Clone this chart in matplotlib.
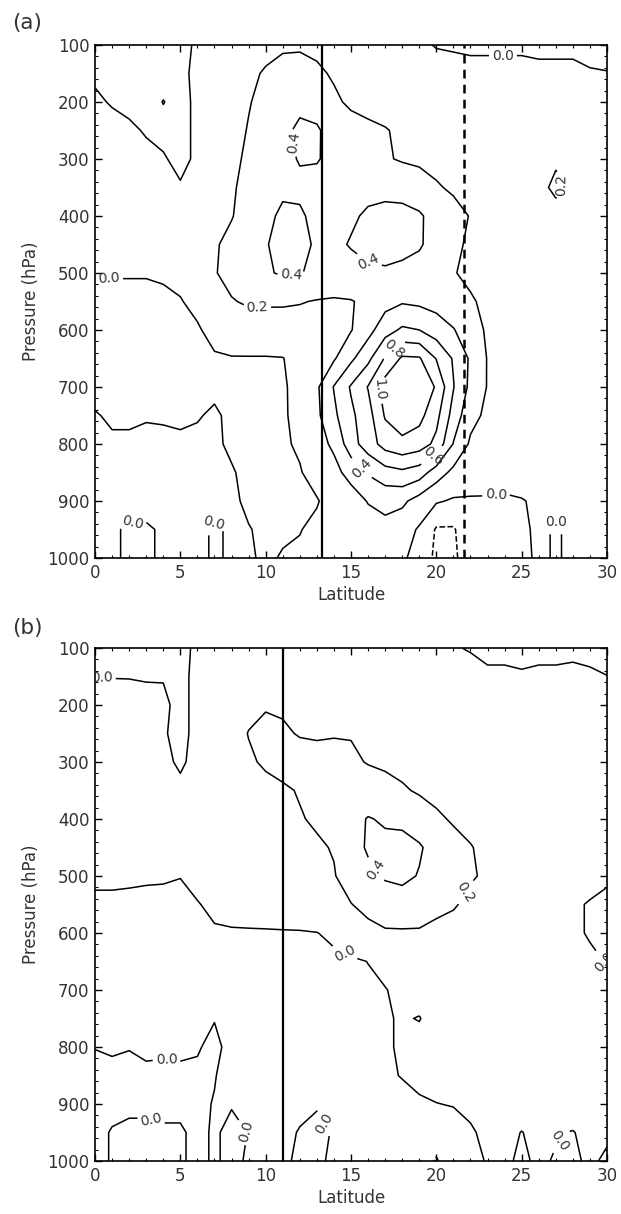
import numpy as np
import matplotlib
matplotlib.use('Agg')
import matplotlib.pyplot as plt
from matplotlib.ticker import MultipleLocator

# grid of the meridional sections
LAT = [0, 1, 2, 3, 4, 5, 6, 7, 8, 9, 10, 11, 12, 13, 14, 15,
       16, 17, 18, 19, 20, 21, 22, 23, 24, 25, 26, 27, 28, 29, 30]
PRES = [100, 150, 200, 250, 300, 350, 400, 450, 500, 550,
        600, 650, 700, 750, 800, 850, 900, 950, 1000]

# panel (a), one row per pressure level, one value per degree of latitude
FIELD_A = [
    [-0.05, -0.06, -0.06, -0.06, -0.05, -0.04, 0.02, 0.05, 0.08, 0.10, 0.14, 0.17, 0.18, 0.16, 0.13, 0.11, 0.09, 0.07, 0.05, 0.03, -0.01, -0.02, -0.03, -0.03, -0.03, -0.03, -0.04, -0.04, -0.04, -0.08, -0.10],
    [-0.02, -0.03, -0.04, -0.04, -0.04, -0.03, 0.03, 0.07, 0.11, 0.16, 0.22, 0.27, 0.26, 0.23, 0.18, 0.15, 0.13, 0.12, 0.10, 0.09, 0.07, 0.06, 0.05, 0.05, 0.05, 0.05, 0.04, 0.04, 0.04, 0.02, 0.01],
    [0.02, -0.01, -0.03, -0.04, 0.003, -0.03, 0.02, 0.08, 0.13, 0.19, 0.25, 0.30, 0.35, 0.33, 0.23, 0.17, 0.14, 0.13, 0.12, 0.11, 0.10, 0.09, 0.08, 0.07, 0.07, 0.07, 0.07, 0.08, 0.07, 0.06, 0.05],
    [0.05, 0.04, 0.02, -0.01, -0.03, -0.03, 0.02, 0.08, 0.14, 0.21, 0.28, 0.35, 0.44, 0.42, 0.33, 0.27, 0.24, 0.21, 0.17, 0.14, 0.12, 0.10, 0.09, 0.08, 0.08, 0.08, 0.09, 0.10, 0.09, 0.08, 0.07],
    [0.06, 0.06, 0.05, 0.03, 0.01, -0.03, 0.02, 0.08, 0.16, 0.23, 0.30, 0.36, 0.41, 0.41, 0.36, 0.30, 0.26, 0.22, 0.18, 0.16, 0.14, 0.12, 0.11, 0.10, 0.10, 0.11, 0.13, 0.18, 0.12, 0.10, 0.08],
    [0.07, 0.07, 0.07, 0.06, 0.04, 0.01, 0.04, 0.10, 0.18, 0.25, 0.33, 0.37, 0.37, 0.35, 0.33, 0.34, 0.36, 0.36, 0.35, 0.30, 0.22, 0.17, 0.14, 0.12, 0.12, 0.13, 0.16, 0.23, 0.15, 0.11, 0.10],
    [0.08, 0.08, 0.08, 0.08, 0.07, 0.06, 0.08, 0.13, 0.19, 0.28, 0.36, 0.43, 0.42, 0.36, 0.34, 0.38, 0.42, 0.44, 0.44, 0.42, 0.34, 0.27, 0.19, 0.16, 0.14, 0.14, 0.14, 0.15, 0.14, 0.12, 0.11],
    [0.09, 0.09, 0.09, 0.09, 0.09, 0.09, 0.12, 0.18, 0.25, 0.32, 0.39, 0.45, 0.44, 0.38, 0.37, 0.41, 0.45, 0.46, 0.45, 0.42, 0.33, 0.24, 0.17, 0.14, 0.13, 0.13, 0.13, 0.13, 0.13, 0.12, 0.12],
    [0.005, 0.01, 0.01, 0.01, 0.02, 0.05, 0.10, 0.19, 0.25, 0.31, 0.38, 0.42, 0.41, 0.36, 0.33, 0.35, 0.37, 0.38, 0.36, 0.33, 0.27, 0.21, 0.16, 0.14, 0.13, 0.13, 0.13, 0.12, 0.12, 0.12, 0.12],
    [-0.03, -0.04, -0.04, -0.04, -0.03, -0.01, 0.05, 0.13, 0.19, 0.22, 0.22, 0.22, 0.21, 0.19, 0.18, 0.19, 0.24, 0.33, 0.38, 0.36, 0.33, 0.28, 0.22, 0.16, 0.14, 0.13, 0.13, 0.12, 0.12, 0.12, 0.12],
    [-0.06, -0.07, -0.07, -0.07, -0.06, -0.05, -0.02, 0.06, 0.11, 0.12, 0.12, 0.12, 0.12, 0.13, 0.15, 0.19, 0.33, 0.52, 0.63, 0.60, 0.50, 0.41, 0.30, 0.17, 0.14, 0.13, 0.13, 0.13, 0.13, 0.12, 0.12],
    [-0.07, -0.08, -0.08, -0.08, -0.08, -0.07, -0.05, -0.02, -0.01, -0.01, -0.01, -0.005, 0.06, 0.14, 0.18, 0.36, 0.55, 0.82, 1.03, 1.02, 0.79, 0.58, 0.37, 0.19, 0.14, 0.13, 0.13, 0.13, 0.12, 0.12, 0.12],
    [-0.05, -0.06, -0.06, -0.05, -0.06, -0.05, -0.04, -0.03, -0.04, -0.05, -0.05, -0.03, 0.08, 0.17, 0.41, 0.62, 0.81, 1.10, 1.20, 1.15, 0.98, 0.61, 0.35, 0.19, 0.14, 0.13, 0.13, 0.12, 0.12, 0.12, 0.12],
    [0.01, -0.02, -0.02, -0.01, -0.01, -0.02, -0.01, 0.02, -0.03, -0.04, -0.04, -0.03, 0.07, 0.16, 0.36, 0.56, 0.72, 1.02, 1.12, 1.06, 0.86, 0.52, 0.26, 0.16, 0.13, 0.12, 0.12, 0.12, 0.12, 0.12, 0.12],
    [0.02, 0.02, 0.02, 0.03, 0.02, 0.02, 0.03, 0.02, -0.02, -0.03, -0.03, -0.02, 0.02, 0.14, 0.23, 0.52, 0.70, 0.88, 0.95, 0.90, 0.75, 0.39, 0.17, 0.13, 0.12, 0.12, 0.12, 0.12, 0.12, 0.12, 0.12],
    [0.03, 0.03, 0.03, 0.03, 0.03, 0.03, 0.03, 0.03, 0.01, -0.03, -0.03, -0.02, -0.01, 0.06, 0.15, 0.26, 0.42, 0.52, 0.56, 0.50, 0.30, 0.15, 0.10, 0.09, 0.09, 0.09, 0.08, 0.08, 0.08, 0.08, 0.08],
    [0.03, 0.03, 0.03, 0.03, 0.03, 0.03, 0.03, 0.03, 0.02, -0.02, -0.03, -0.03, -0.02, -0.01, 0.06, 0.12, 0.21, 0.26, 0.24, 0.12, 0.02, -0.02, -0.02, -0.02, -0.03, -0.01, 0.03, 0.03, 0.04, 0.04, 0.04],
    [0.02, 0.01, -0.01, -0.01, 0.01, 0.02, 0.02, -0.01, 0.01, 0.005, -0.02, -0.02, -0.005, 0.03, 0.06, 0.09, 0.12, 0.14, 0.08, -0.02, -0.22, -0.22, -0.06, -0.04, -0.04, -0.02, 0.02, -0.01, 0.02, 0.02, 0.02],
    [0.02, 0.01, -0.01, -0.01, 0.01, 0.02, 0.02, -0.01, 0.01, 0.015, -0.02, 0.01, 0.02, 0.03, 0.04, 0.05, 0.05, 0.05, 0.02, -0.05, -0.25, -0.25, -0.05, -0.04, -0.04, -0.03, 0.02, -0.01, 0.02, 0.01, 0.01],
]

# panel (b)
FIELD_B = [
    [-0.04, -0.05, -0.05, -0.05, -0.05, -0.03, 0.02, 0.04, 0.06, 0.08, 0.10, 0.11, 0.11, 0.10, 0.09, 0.08, 0.07, 0.06, 0.05, 0.04, 0.03, 0.01, -0.01, -0.03, -0.03, -0.03, -0.03, -0.03, -0.03, -0.04, -0.05],
    [-0.002, -0.003, -0.004, -0.01, -0.006, -0.03, 0.03, 0.06, 0.09, 0.12, 0.14, 0.15, 0.15, 0.14, 0.13, 0.12, 0.11, 0.10, 0.09, 0.08, 0.07, 0.06, 0.05, 0.02, 0.02, 0.01, 0.02, 0.02, 0.03, 0.02, 0.002],
    [0.04, 0.04, 0.04, 0.04, 0.02, -0.03, 0.03, 0.08, 0.12, 0.16, 0.19, 0.18, 0.17, 0.16, 0.15, 0.14, 0.13, 0.12, 0.11, 0.10, 0.09, 0.08, 0.07, 0.06, 0.05, 0.05, 0.05, 0.05, 0.05, 0.05, 0.04],
    [0.05, 0.05, 0.05, 0.05, 0.01, -0.03, 0.03, 0.09, 0.14, 0.205, 0.23, 0.22, 0.19, 0.18, 0.19, 0.19, 0.17, 0.15, 0.14, 0.13, 0.12, 0.11, 0.10, 0.09, 0.08, 0.07, 0.07, 0.07, 0.06, 0.06, 0.06],
    [0.06, 0.06, 0.06, 0.06, 0.03, -0.02, 0.04, 0.09, 0.13, 0.18, 0.22, 0.25, 0.26, 0.26, 0.25, 0.23, 0.19, 0.17, 0.15, 0.14, 0.13, 0.12, 0.11, 0.10, 0.09, 0.08, 0.08, 0.08, 0.07, 0.07, 0.07],
    [0.07, 0.07, 0.07, 0.07, 0.06, 0.03, 0.06, 0.09, 0.12, 0.14, 0.16, 0.18, 0.21, 0.25, 0.28, 0.30, 0.29, 0.26, 0.22, 0.18, 0.15, 0.13, 0.12, 0.11, 0.10, 0.09, 0.09, 0.08, 0.08, 0.08, 0.08],
    [0.08, 0.08, 0.08, 0.08, 0.08, 0.07, 0.07, 0.09, 0.11, 0.13, 0.15, 0.17, 0.19, 0.22, 0.28, 0.34, 0.41, 0.38, 0.36, 0.30, 0.23, 0.18, 0.14, 0.12, 0.11, 0.10, 0.10, 0.09, 0.09, 0.09, 0.09],
    [0.09, 0.09, 0.09, 0.09, 0.09, 0.08, 0.08, 0.09, 0.10, 0.11, 0.12, 0.14, 0.16, 0.18, 0.21, 0.33, 0.42, 0.44, 0.46, 0.42, 0.33, 0.26, 0.21, 0.15, 0.12, 0.11, 0.10, 0.10, 0.10, 0.10, 0.10],
    [0.02, 0.02, 0.015, 0.01, 0.008, 0.002, 0.03, 0.06, 0.08, 0.09, 0.10, 0.12, 0.14, 0.16, 0.19, 0.28, 0.36, 0.42, 0.44, 0.39, 0.32, 0.26, 0.22, 0.17, 0.13, 0.11, 0.11, 0.10, 0.09, 0.05, 0.02],
    [-0.02, -0.02, -0.02, -0.02, -0.02, -0.02, -0.005, 0.02, 0.04, 0.05, 0.06, 0.08, 0.10, 0.13, 0.17, 0.195, 0.25, 0.30, 0.32, 0.30, 0.26, 0.22, 0.15, 0.12, 0.11, 0.10, 0.09, 0.06, 0.02, -0.01, -0.03],
    [-0.04, -0.04, -0.04, -0.04, -0.04, -0.04, -0.03, -0.01, -0.01, -0.01, -0.01, -0.01, -0.01, -0.003, 0.03, 0.10, 0.15, 0.18, 0.18, 0.18, 0.14, 0.12, 0.10, 0.10, 0.09, 0.09, 0.08, 0.06, 0.02, -0.01, -0.02],
    [-0.05, -0.05, -0.05, -0.05, -0.05, -0.05, -0.05, -0.05, -0.04, -0.04, -0.04, -0.04, -0.04, -0.04, -0.03, -0.02, 0.002, 0.04, 0.06, 0.07, 0.07, 0.07, 0.07, 0.07, 0.07, 0.07, 0.06, 0.05, 0.04, 0.02, -0.005],
    [-0.05, -0.05, -0.05, -0.05, -0.05, -0.05, -0.05, -0.05, -0.05, -0.05, -0.05, -0.05, -0.05, -0.04, -0.04, -0.03, -0.02, -0.005, 0.03, 0.05, 0.06, 0.06, 0.06, 0.06, 0.06, 0.06, 0.06, 0.06, 0.05, 0.05, 0.05],
    [-0.04, -0.04, -0.04, -0.04, -0.04, -0.04, -0.02, -0.005, -0.04, -0.05, -0.05, -0.05, -0.05, -0.05, -0.04, -0.03, -0.02, -0.01, 0.01, -0.005, 0.05, 0.05, 0.05, 0.05, 0.05, 0.05, 0.05, 0.05, 0.05, 0.05, 0.05],
    [-0.002, -0.01, -0.003, -0.02, -0.015, -0.02, -0.01, 0.03, -0.04, -0.05, -0.05, -0.05, -0.05, -0.05, -0.04, -0.03, -0.02, -0.01, 0.01, 0.04, 0.05, 0.05, 0.05, 0.05, 0.05, 0.05, 0.05, 0.05, 0.05, 0.05, 0.05],
    [0.02, 0.02, 0.02, 0.02, 0.02, 0.02, 0.02, 0.005, -0.04, -0.05, -0.05, -0.05, -0.05, -0.05, -0.04, -0.03, -0.02, -0.01, 0.003, 0.02, 0.04, 0.05, 0.05, 0.05, 0.05, 0.05, 0.05, 0.05, 0.05, 0.05, 0.05],
    [0.02, 0.02, 0.01, 0.01, 0.01, 0.02, 0.02, -0.005, -0.005, -0.02, -0.04, -0.04, -0.02, -0.005, -0.02, -0.03, -0.03, -0.02, -0.02, -0.01, -0.002, 0.005, 0.01, 0.03, 0.04, 0.04, 0.04, 0.04, 0.04, 0.04, 0.04],
    [0.02, -0.005, -0.01, -0.01, -0.005, -0.01, 0.02, -0.01, 0.02, -0.002, -0.03, -0.02, 0.005, 0.015, -0.005, -0.02, -0.03, -0.04, -0.05, -0.06, -0.08, -0.04, -0.005, 0.01, 0.02, -0.002, 0.02, 0.005, -0.003, 0.02, 0.01],
    [0.02, -0.005, -0.01, -0.01, -0.005, -0.01, 0.02, -0.01, 0.02, -0.01, -0.03, -0.01, 0.01, 0.01, -0.01, -0.02, -0.03, -0.04, -0.05, -0.08, -0.22, -0.06, -0.02, 0.005, 0.01, -0.01, 0.01, -0.005, -0.01, 0.01, -0.01],
]

LEVELS = [-0.2, 0.0, 0.2, 0.4, 0.6, 0.8, 1.0]

# reference latitudes drawn as vertical lines
A_SOLID = 13.28
A_DASHED = 21.62
B_SOLID = 11.0

# where the contour labels sit (lat, hPa)
A_LABELS = [(0.8, 518), (11.6, 272), (11.5, 507), (9.5, 556), (16.0, 482),
            (23.9, 112), (27.4, 345), (17.5, 634), (16.75, 705), (19.8, 822),
            (15.7, 840), (23.5, 890), (27.1, 935), (7.0, 940), (2.2, 945)]
B_LABELS = [(0.4, 152), (21.8, 530), (16.4, 489), (14.8, 626), (4.2, 819),
            (3.4, 916), (9.0, 946), (13.4, 935), (27.7, 975), (29.8, 652)]

GREY = '#333333'


def draw_panel(ax, field, labels):
    cs = ax.contour(LAT, PRES, np.array(field), levels=LEVELS,
                    colors='k', linewidths=1.1)
    ax.clabel(cs, LEVELS, manual=labels, inline=True, fmt='%.1f',
              fontsize=10, colors=GREY, inline_spacing=3)
    ax.set_xlim(0, 30)
    ax.set_ylim(1000, 100)
    ax.xaxis.set_major_locator(MultipleLocator(5))
    ax.xaxis.set_minor_locator(MultipleLocator(1))
    ax.yaxis.set_major_locator(MultipleLocator(100))
    ax.yaxis.set_minor_locator(MultipleLocator(20))
    ax.tick_params(which='both', direction='in', top=True, right=True,
                   labelsize=12, labelcolor=GREY)
    ax.tick_params(which='major', length=5, width=1.0, pad=4)
    ax.tick_params(which='minor', length=2.5, width=0.8)
    ax.set_xlabel('Latitude', fontsize=12, color=GREY, labelpad=3)
    ax.set_ylabel('Pressure (hPa)', fontsize=12, color=GREY, labelpad=5)
    for s in ax.spines.values():
        s.set_linewidth(1.2)


fig = plt.figure(figsize=(6.21, 12.14), dpi=100)
ax_a = fig.add_axes([0.153, 0.5404, 0.8245, 0.4226])
ax_b = fig.add_axes([0.153, 0.0437, 0.8245, 0.4226])

draw_panel(ax_a, FIELD_A, A_LABELS)
ax_a.axvline(A_SOLID, color='k', lw=1.6)
ax_a.axvline(A_DASHED, color='k', lw=1.8, linestyle=(0, (3.5, 2.5)))

draw_panel(ax_b, FIELD_B, B_LABELS)
ax_b.axvline(B_SOLID, color='k', lw=1.6)

fig.text(0.019, 0.981, '(a)', fontsize=15.5, color=GREY, va='center')
fig.text(0.019, 0.483, '(b)', fontsize=15.5, color=GREY, va='center')

fig.savefig('out.png', dpi=100)
